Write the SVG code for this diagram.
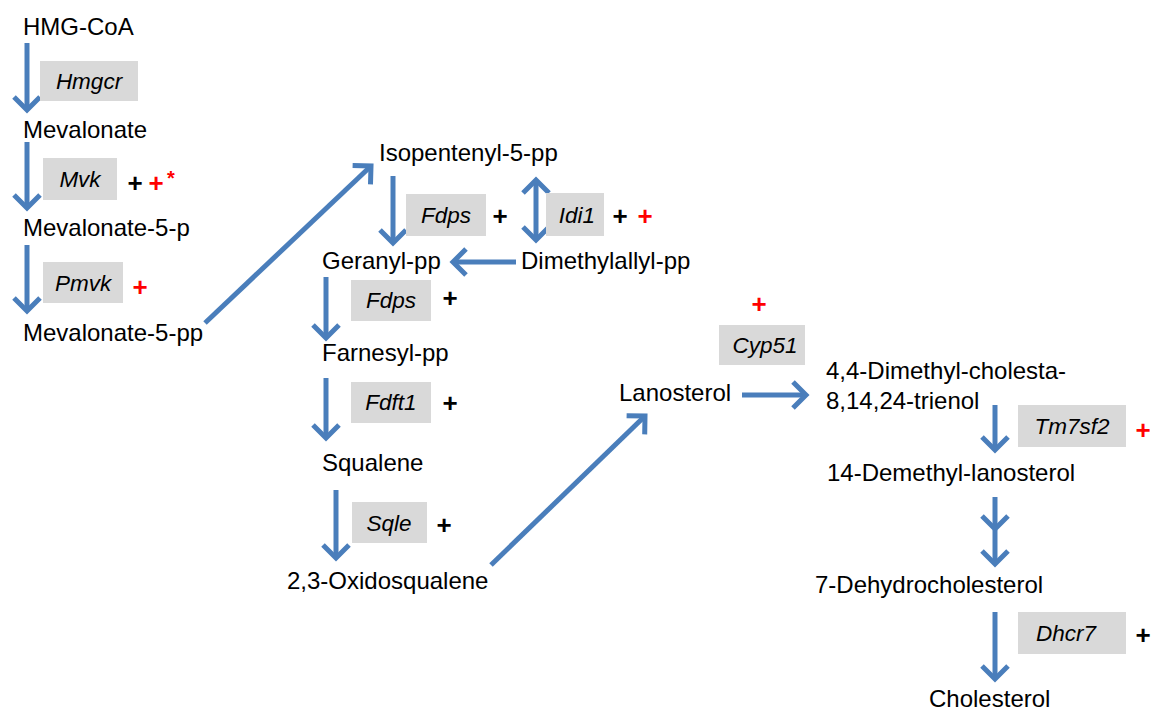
<svg xmlns="http://www.w3.org/2000/svg" width="1152" height="713" viewBox="0 0 1152 713">
<style>
.t{font-family:"Liberation Sans",Arial,sans-serif;font-size:24px;fill:#000}
.g{font-family:"Liberation Sans",Arial,sans-serif;font-size:22.5px;font-style:italic;fill:#000;text-anchor:middle}
.b{fill:#D9D9D9}
.pk{font-family:"Liberation Sans",Arial,sans-serif;font-size:26px;font-weight:bold;fill:#000;text-anchor:middle}
.pr{font-family:"Liberation Sans",Arial,sans-serif;font-size:26px;font-weight:bold;fill:#FF0000;text-anchor:middle}
.a{stroke:#4A7EBB;stroke-width:5;fill:none;marker-end:url(#h)}
.d{stroke:#4A7EBB;stroke-width:5;fill:none;marker-end:url(#h);marker-start:url(#h)}
</style>
<defs>
<marker id="h" viewBox="-18 -16 22 32" refX="0" refY="0" markerWidth="22" markerHeight="32" markerUnits="userSpaceOnUse" orient="auto-start-reverse">
<path d="M-13,-13 L0,0 L-13,13" stroke="#4A7EBB" stroke-width="5" fill="none"/>
</marker>
</defs>
<rect width="1152" height="713" fill="#fff"/>
<g id="connectors">
<line class="a" x1="27" y1="43" x2="27" y2="110"/>
<line class="a" x1="27" y1="142" x2="27" y2="208"/>
<line class="a" x1="27" y1="245" x2="27" y2="311"/>
<line class="a" x1="205" y1="323" x2="371" y2="166"/>
<line class="a" x1="393" y1="176" x2="393" y2="243"/>
<line class="d" x1="536" y1="180" x2="536" y2="240"/>
<line class="a" x1="516" y1="262" x2="453" y2="262"/>
<line class="a" x1="326" y1="277" x2="326" y2="338"/>
<line class="a" x1="326" y1="378" x2="326" y2="438"/>
<line class="a" x1="336" y1="490" x2="336" y2="558"/>
<line class="a" x1="491" y1="565" x2="645" y2="416"/>
<line class="a" x1="742" y1="395" x2="806" y2="395"/>
<line class="a" x1="995" y1="405" x2="995" y2="450"/>
<line class="a" x1="995" y1="497" x2="995" y2="529"/>
<line class="a" x1="995" y1="530" x2="995" y2="564"/>
<line class="a" x1="995" y1="612" x2="995" y2="679"/>
</g>
<g id="hmgcoa"><text class="t" x="23" y="35">HMG-CoA</text></g>
<g id="hmgcr"><rect class="b" x="40" y="61" width="98" height="40"/><text class="g" x="89" y="89">Hmgcr</text></g>
<g id="mevalonate"><text class="t" x="23" y="138">Mevalonate</text></g>
<g id="mvk"><rect class="b" x="43" y="158" width="74" height="42"/><text class="g" x="80" y="187">Mvk</text>
<text class="pk" x="135" y="192">+</text><text class="pr" x="156" y="192">+</text><text class="pr" x="171" y="185" style="font-size:20px">*</text></g>
<g id="mevalonate5p"><text class="t" x="23" y="236">Mevalonate-5-p</text></g>
<g id="pmvk"><rect class="b" x="43" y="262" width="80" height="41"/><text class="g" x="83" y="291">Pmvk</text><text class="pr" x="140" y="296">+</text></g>
<g id="mevalonate5pp"><text class="t" x="23" y="341">Mevalonate-5-pp</text></g>
<g id="isopentenyl"><text class="t" x="379" y="161">Isopentenyl-5-pp</text></g>
<g id="fdps1"><rect class="b" x="406" y="194" width="80" height="42"/><text class="g" x="446" y="223">Fdps</text><text class="pk" x="500" y="225">+</text></g>
<g id="idi1"><rect class="b" x="546" y="193" width="58" height="43"/><text class="g" x="577" y="223">Idi1</text><text class="pk" x="620" y="225">+</text><text class="pr" x="645" y="225">+</text></g>
<g id="geranyl"><text class="t" x="322" y="269">Geranyl-pp</text></g>
<g id="dimethylallyl"><text class="t" x="521" y="269">Dimethylallyl-pp</text></g>
<g id="fdps2"><rect class="b" x="351" y="280" width="80" height="41"/><text class="g" x="391" y="308">Fdps</text><text class="pk" x="450" y="307">+</text></g>
<g id="farnesyl"><text class="t" x="322" y="361">Farnesyl-pp</text></g>
<g id="fdft1"><rect class="b" x="351" y="382" width="80" height="41"/><text class="g" x="391" y="410">Fdft1</text><text class="pk" x="450" y="412">+</text></g>
<g id="squalene"><text class="t" x="322" y="471">Squalene</text></g>
<g id="sqle"><rect class="b" x="352" y="502" width="75" height="41"/><text class="g" x="389" y="531">Sqle</text><text class="pk" x="444" y="534">+</text></g>
<g id="oxidosqualene"><text class="t" x="287" y="589">2,3-Oxidosqualene</text></g>
<g id="lanosterol"><text class="t" x="619" y="401">Lanosterol</text></g>
<g id="cyp51"><text class="pr" x="759" y="313">+</text><rect class="b" x="719" y="325" width="86" height="40"/><text class="g" x="765" y="353">Cyp51</text></g>
<g id="dimethylcholesta"><text class="t" x="826" y="379">4,4-Dimethyl-cholesta-</text><text class="t" x="826" y="409">8,14,24-trienol</text></g>
<g id="tm7sf2"><rect class="b" x="1018" y="405" width="108" height="42"/><text class="g" x="1072" y="434">Tm7sf2</text><text class="pr" x="1143" y="439">+</text></g>
<g id="demethyllanosterol"><text class="t" x="827" y="481">14-Demethyl-lanosterol</text></g>
<g id="dehydrocholesterol"><text class="t" x="815" y="593">7-Dehydrocholesterol</text></g>
<g id="dhcr7"><rect class="b" x="1018" y="612" width="108" height="42"/><text class="g" x="1066" y="641">Dhcr7</text><text class="pk" x="1143" y="644">+</text></g>
<g id="cholesterol"><text class="t" x="929" y="707">Cholesterol</text></g>
</svg>
